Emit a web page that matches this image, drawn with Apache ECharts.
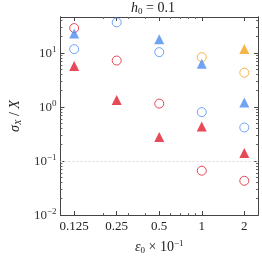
<!DOCTYPE html>
<html>
<head>
<meta charset="utf-8">
<script src="https://cdn.jsdelivr.net/npm/echarts@6/dist/echarts.min.js"></script>
<style>
html,body{margin:0;padding:0;background:#fff;}
#chart{width:262px;height:260px;}
</style>
</head>
<body>
<div id="chart"></div>
<script>
// x categories (epsilon_0 x 10^-1)
const epsilon = [0.125, 0.25, 0.5, 1, 2];
const xTickLabels = ['0.125', '0.25', '0.5', '1', '2'];
const xMinorTicks = [0.2, 0.3, 0.4, 0.6, 0.7, 0.8, 0.9];
const yTickValues = [0.01, 0.1, 1, 10];
const yTickExp = ['−2', '−1', '0', '1'];
const yMinorTicks = [0.02,0.03,0.04,0.05,0.06,0.07,0.08,0.09,0.2,0.3,0.4,0.5,0.6,0.7,0.8,0.9,2,3,4,5,6,7,8,9,20,30,40];

// series values (sigma_X / X)
const redCircle      = [28.7, 7.2, 1.15, 0.066, 0.043];
const redTriangle    = [5.7, 1.34, 0.276, 0.434, 0.140];
const blueCircle     = [11.7, 36.6, 10.3, 0.80, 0.416];
const blueTriangle   = [22.7, null, 17.8, 6.3, 1.20];
const orangeCircle   = [null, null, null, 8.3, 4.3];
const orangeTriangle = [null, null, null, null, 11.8];

const RED = '#e11d2c', BLUE = '#4d8cf2', ORANGE = '#f5a21c';
const FONT = 'Liberation Serif';

function pairs(vals) {
  const out = [];
  vals.forEach((v, i) => { if (v != null) out.push([epsilon[i], v]); });
  return out;
}

const supRich = {
  b: {fontFamily: FONT, fontSize: 13, color: '#333', lineHeight: 15, verticalAlign: 'bottom'},
  s: {fontFamily: FONT, fontSize: 9, color: '#333', lineHeight: 15, verticalAlign: 'top', padding: [0,0,6,0]}
};

const axisLineStyle = {color: '#444', width: 1};

function xAxisBase(extra) {
  return Object.assign({
    type: 'log', logBase: 2, min: 0.1, max: 2.5,
    gridIndex: 0,
    axisLine: {show: true, onZero: false, lineStyle: axisLineStyle},
    splitLine: {show: false}, minorTick: {show: false}, minorSplitLine: {show: false}
  }, extra);
}
function yAxisBase(extra) {
  return Object.assign({
    type: 'log', logBase: 10, min: 0.01, max: 46,
    gridIndex: 0,
    axisLine: {show: true, onZero: false, lineStyle: axisLineStyle},
    splitLine: {show: false}, minorTick: {show: false}, minorSplitLine: {show: false}
  }, extra);
}

const chart = echarts.init(document.getElementById('chart'), null, {renderer: 'canvas'});

function scatter(name, data, symbol, color, filled) {
  return {
    name, type: 'scatter', xAxisIndex: 0, yAxisIndex: 0,
    data: pairs(data), symbol,
    symbolSize: filled ? 10 : 9,
    itemStyle: filled ? {color: color} : {color: 'rgba(0,0,0,0)', borderColor: color, borderWidth: 1},
    z: filled ? 3 : 2
  };
}

const series = [
  scatter('redCircle', redCircle, 'circle', RED, false),
  scatter('blueCircle', blueCircle, 'circle', BLUE, false),
  scatter('orangeCircle', orangeCircle, 'circle', ORANGE, false),
  scatter('redTriangle', redTriangle, 'triangle', RED, true),
  scatter('blueTriangle', blueTriangle, 'triangle', BLUE, true),
  scatter('orangeTriangle', orangeTriangle, 'triangle', ORANGE, true)
];
series[0].markLine = {
  silent: true, symbol: 'none', label: {show: false},
  lineStyle: {color: '#d8d8d8', type: [2, 2], width: 1},
  data: [{yAxis: 0.1}]
};

chart.setOption({
  animation: false,
  backgroundColor: '#fff',
  title: {
    text: '{i|h}{sub|0}{n| = 0.1}',
    left: 153, top: 0, padding: 0, textAlign: 'center',
    textStyle: {
      fontWeight: 'normal',
      rich: {
        i: {fontFamily: FONT, fontStyle: 'italic', fontWeight: 'normal', fontSize: 14, color: '#222', lineHeight: 16},
        sub: {fontFamily: FONT, fontWeight: 'normal', fontSize: 9, color: '#222', lineHeight: 16, verticalAlign: 'bottom'},
        n: {fontFamily: FONT, fontWeight: 'normal', fontSize: 14, color: '#222', lineHeight: 16}
      }
    }
  },
  grid: {left: 49, right: 4, top: 17, bottom: 36, containLabel: false},
  xAxis: [
    xAxisBase({
      position: 'bottom',
      name: '{i|ε}{sub|0}{n| × 10}{sup|−1}',
      nameLocation: 'middle', nameGap: 24,
      nameTextStyle: {
        rich: {
          i: {fontFamily: FONT, fontStyle: 'italic', fontSize: 14, color: '#222', lineHeight: 16},
          sub: {fontFamily: FONT, fontSize: 9, color: '#222', lineHeight: 16, verticalAlign: 'bottom', padding: [4,0,0,0]},
          n: {fontFamily: FONT, fontSize: 14, color: '#222', lineHeight: 16},
          sup: {fontFamily: FONT, fontSize: 9, color: '#222', lineHeight: 16, verticalAlign: 'top', padding: [0,0,7,0]}
        }
      },
      axisTick: {show: true, inside: true, length: 4, customValues: epsilon, lineStyle: {color: '#444'}},
      axisLabel: {
        show: true, customValues: epsilon, margin: 5,
        fontFamily: FONT, fontSize: 13, color: '#222',
        formatter: function (v) {
          let best = 0, d = Infinity;
          epsilon.forEach((e, i) => { const dd = Math.abs(Math.log(e) - Math.log(v)); if (dd < d) { d = dd; best = i; } });
          return xTickLabels[best];
        }
      }
    }),
    xAxisBase({
      position: 'bottom',
      axisTick: {show: true, inside: true, length: 2, customValues: xMinorTicks, lineStyle: {color: '#666'}},
      axisLabel: {show: false}
    }),
    xAxisBase({
      position: 'top',
      axisTick: {show: true, inside: true, length: 4, customValues: epsilon, lineStyle: {color: '#444'}},
      axisLabel: {show: false}
    }),
    xAxisBase({
      position: 'top',
      axisTick: {show: true, inside: true, length: 2, customValues: xMinorTicks, lineStyle: {color: '#666'}},
      axisLabel: {show: false}
    })
  ],
  yAxis: [
    yAxisBase({
      position: 'left',
      name: '{i|σ}{sub|X}{n| / }{i|X}',
      nameLocation: 'middle', nameGap: 33, nameRotate: 90,
      nameTextStyle: {
        rich: {
          i: {fontFamily: FONT, fontStyle: 'italic', fontSize: 14, color: '#222', lineHeight: 16},
          sub: {fontFamily: FONT, fontStyle: 'italic', fontSize: 9, color: '#222', lineHeight: 16, verticalAlign: 'bottom', padding: [4,0,0,0]},
          n: {fontFamily: FONT, fontSize: 14, color: '#222', lineHeight: 16}
        }
      },
      axisTick: {show: true, inside: true, length: 4, customValues: yTickValues, lineStyle: {color: '#444'}},
      axisLabel: {
        show: true, customValues: yTickValues, margin: 4,
        formatter: function (v) {
          const e = Math.round(Math.log10(v));
          const idx = yTickValues.findIndex(t => Math.round(Math.log10(t)) === e);
          return '{b|10}{s|' + yTickExp[idx] + '}';
        },
        rich: supRich
      }
    }),
    yAxisBase({
      position: 'left',
      axisTick: {show: true, inside: true, length: 2, customValues: yMinorTicks, lineStyle: {color: '#666'}},
      axisLabel: {show: false}
    }),
    yAxisBase({
      position: 'right',
      axisTick: {show: true, inside: true, length: 4, customValues: yTickValues, lineStyle: {color: '#444'}},
      axisLabel: {show: false}
    }),
    yAxisBase({
      position: 'right',
      axisTick: {show: true, inside: true, length: 2, customValues: yMinorTicks, lineStyle: {color: '#666'}},
      axisLabel: {show: false}
    })
  ],
  series: series
});
</script>
</body>
</html>
